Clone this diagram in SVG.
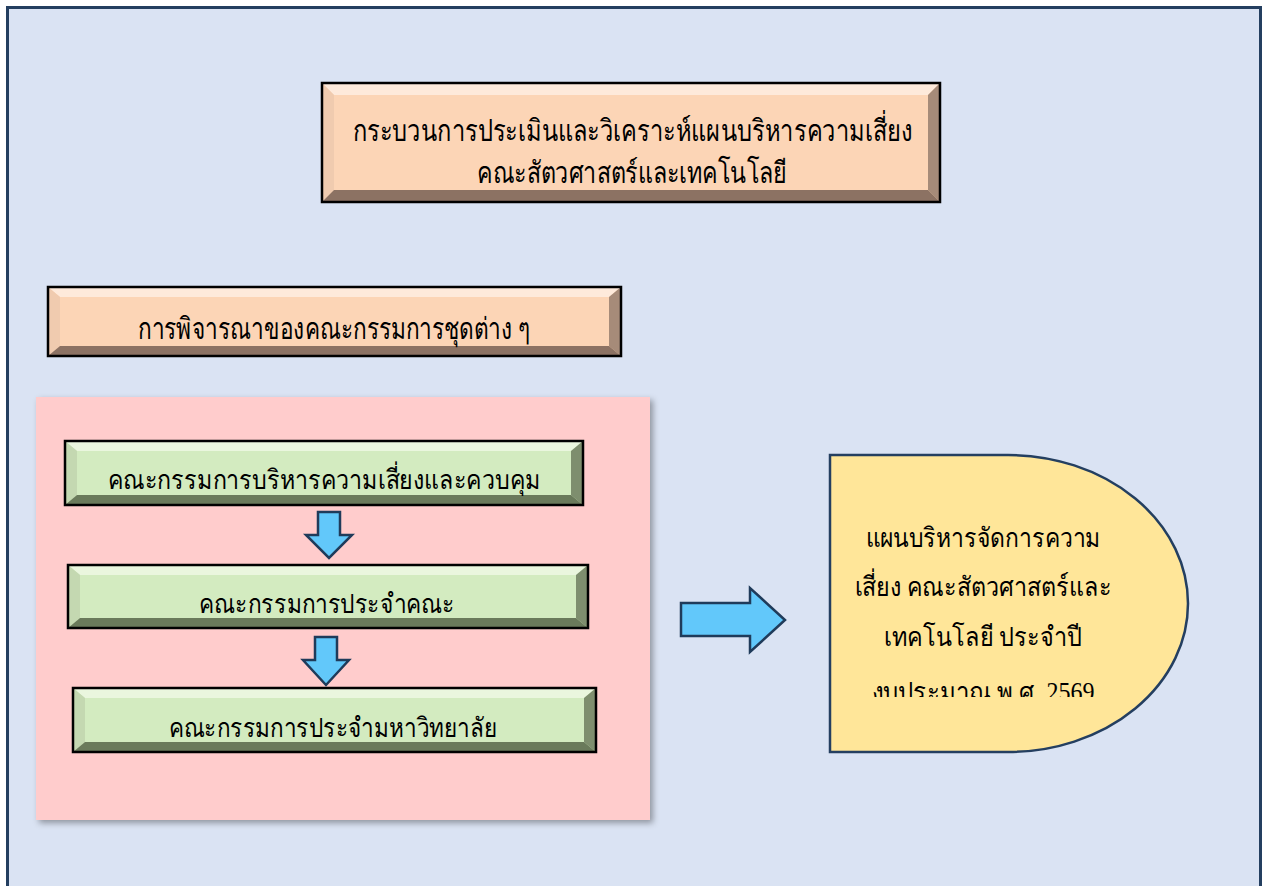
<svg xmlns="http://www.w3.org/2000/svg" width="1267" height="886" viewBox="0 0 1267 886">
<style>
text{font-family:"Liberation Serif","Noto Serif","DejaVu Serif",serif;fill:#000;text-anchor:middle}
.t30{font-size:30px}
.t26{font-size:27px}
.edge{fill:none;stroke:#000;stroke-width:2.5}
.arr{fill:#62C8FA;stroke:#1F3B5A;stroke-width:2.5;stroke-linejoin:miter}
.pt{fill:#FEEADB}.pl{fill:#F0CBAF}.pr{fill:#A68B79}.pb{fill:#8C7263}.pc{fill:#FCD5B6}
.gt{fill:#EAF6DE}.gl{fill:#C4D8B1}.gr{fill:#7E8E6E}.gb{fill:#6A7A5B}.gc{fill:#D3EBC0}
</style>
<defs>
<filter id="sh" x="-5%" y="-5%" width="115%" height="115%">
<feDropShadow dx="3" dy="3" stdDeviation="3" flood-color="#000" flood-opacity="0.35"/>
</filter>
<clipPath id="yc"><rect x="830" y="455" width="360" height="242"/></clipPath>
</defs>
<rect x="0" y="0" width="1267" height="886" fill="#fff"/>
<rect x="7.5" y="7.5" width="1253" height="900" fill="#DAE3F3" stroke="#243F60" stroke-width="3"/>

<g id="title">
<rect class="pc" x="322" y="83" width="618" height="119"/>
<polygon class="pt" points="322,83 940,83 928,95 334,95"/>
<polygon class="pl" points="322,83 334,95 334,190 322,202"/>
<polygon class="pr" points="940,83 940,202 928,190 928,95"/>
<polygon class="pb" points="322,202 334,190 928,190 940,202"/>
<rect class="edge" x="322" y="83" width="618" height="119"/>
<text class="t30" x="633" y="141" textLength="560" lengthAdjust="spacingAndGlyphs">กระบวนการประเมินและวิเคราะห์แผนบริหารความเสี่ยง</text>
<text class="t30" x="632" y="183" textLength="310" lengthAdjust="spacingAndGlyphs">คณะสัตวศาสตร์และเทคโนโลยี</text>
</g>

<g id="consider">
<rect class="pc" x="48" y="287" width="573" height="69"/>
<polygon class="pt" points="48,287 621,287 609,297 60,297"/>
<polygon class="pl" points="48,287 60,297 60,346 48,356"/>
<polygon class="pr" points="621,287 621,356 609,346 609,297"/>
<polygon class="pb" points="48,356 60,346 609,346 621,356"/>
<rect class="edge" x="48" y="287" width="573" height="69"/>
<text class="t30" x="334" y="339" textLength="392" lengthAdjust="spacingAndGlyphs">การพิจารณาของคณะกรรมการชุดต่าง ๆ</text>
</g>

<g id="panel">
<rect x="36" y="397" width="614" height="423" fill="#FFCCCC" filter="url(#sh)"/>
</g>

<g id="c1">
<rect class="gc" x="65" y="441" width="518" height="64"/>
<polygon class="gt" points="65,441 583,441 571,451 77,451"/>
<polygon class="gl" points="65,441 77,451 77,495 65,505"/>
<polygon class="gr" points="583,441 583,505 571,495 571,451"/>
<polygon class="gb" points="65,505 77,495 571,495 583,505"/>
<rect class="edge" x="65" y="441" width="518" height="64"/>
<text class="t26" x="324" y="489" textLength="433" lengthAdjust="spacingAndGlyphs">คณะกรรมการบริหารความเสี่ยงและควบคุม</text>
</g>

<g id="c2">
<rect class="gc" x="68" y="565" width="520" height="63"/>
<polygon class="gt" points="68,565 588,565 576,575 80,575"/>
<polygon class="gl" points="68,565 80,575 80,618 68,628"/>
<polygon class="gr" points="588,565 588,628 576,618 576,575"/>
<polygon class="gb" points="68,628 80,618 576,618 588,628"/>
<rect class="edge" x="68" y="565" width="520" height="63"/>
<text class="t26" x="327" y="613" textLength="256" lengthAdjust="spacingAndGlyphs">คณะกรรมการประจำคณะ</text>
</g>

<g id="c3">
<rect class="gc" x="73" y="688" width="523" height="64"/>
<polygon class="gt" points="73,688 596,688 584,698 85,698"/>
<polygon class="gl" points="73,688 85,698 85,742 73,752"/>
<polygon class="gr" points="596,688 596,752 584,742 584,698"/>
<polygon class="gb" points="73,752 85,742 584,742 596,752"/>
<rect class="edge" x="73" y="688" width="523" height="64"/>
<text class="t26" x="333" y="737" textLength="329" lengthAdjust="spacingAndGlyphs">คณะกรรมการประจำมหาวิทยาลัย</text>
</g>

<g id="plan">
<path d="M830 455 H1008 A180 148.5 0 0 1 1008 752 H830 Z" fill="#FFE699" stroke="#243F60" stroke-width="2.5"/>
<g clip-path="url(#yc)">
<text class="t26" x="983" y="547" textLength="235" lengthAdjust="spacingAndGlyphs">แผนบริหารจัดการความ</text>
<text class="t26" x="983" y="596" textLength="257" lengthAdjust="spacingAndGlyphs">เสี่ยง คณะสัตวศาสตร์และ</text>
<text class="t26" x="983" y="646" textLength="198" lengthAdjust="spacingAndGlyphs">เทคโนโลยี ประจำปี</text>
<text class="t26" x="983" y="701" textLength="223" lengthAdjust="spacingAndGlyphs">งบประมาณ พ.ศ. 2569</text>
</g>
</g>

<g id="connectors">
<polygon class="arr" points="318,512 340,512 340,535 352,535 329,558 306,535 318,535"/>
<polygon class="arr" points="315,637 337,637 337,660 349,660 326,685 303,660 315,660"/>
<polygon class="arr" points="681,603 750,603 750,588 785,620 750,652 750,636 681,636"/>
</g>
</svg>
